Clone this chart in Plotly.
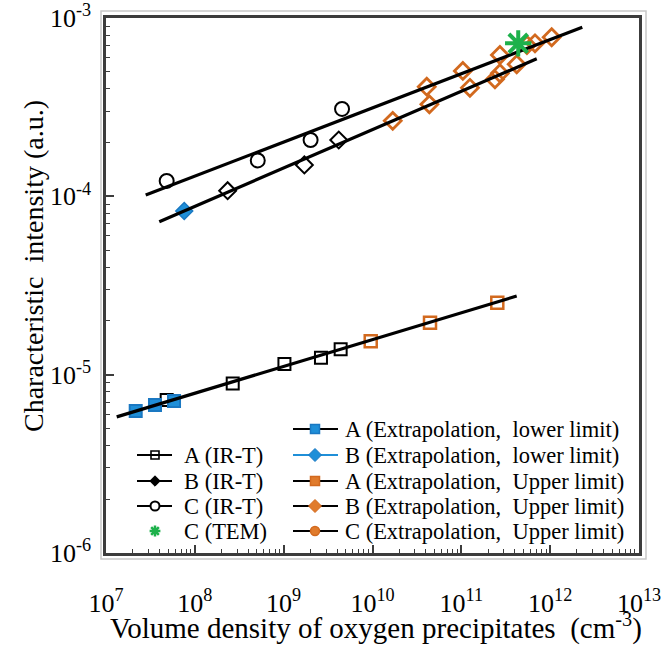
import plotly.graph_objects as go

# ---- data: volume density (cm^-3) vs characteristic intensity (a.u.) ----
a_irt_x = [4.82e7, 2.67e8, 1.02e9, 2.63e9, 4.38e9]
a_irt_y = [7.21e-6, 8.93e-6, 1.146e-5, 1.245e-5, 1.387e-5]

b_irt_x = [2.34e8, 1.71e9, 4.17e9]
b_irt_y = [1.075e-4, 1.50e-4, 2.07e-4]

c_irt_x = [4.82e7, 5.11e8, 2.01e9, 4.54e9]
c_irt_y = [1.22e-4, 1.59e-4, 2.07e-4, 3.09e-4]

c_tem_x = [4.37e11]
c_tem_y = [7.21e-4]

a_low_x = [2.16e7, 3.56e7, 5.83e7]
a_low_y = [6.25e-6, 6.76e-6, 7.11e-6]

b_low_x = [7.60e7]
b_low_y = [8.27e-5]

a_up_x = [9.55e9, 4.44e10, 2.54e11]
a_up_y = [1.54e-5, 1.955e-5, 2.53e-5]

b_up_x = [1.69e10, 4.37e10, 1.25e11, 2.39e11, 2.72e11, 4.20e11]
b_up_y = [2.65e-4, 3.28e-4, 4.06e-4, 4.53e-4, 4.90e-4, 5.50e-4]

c_up_x = [4.08e10, 1.04e11, 2.72e11, 5.48e11, 6.75e11, 1.04e12]
c_up_y = [4.12e-4, 5.05e-4, 6.20e-4, 7.06e-4, 7.21e-4, 7.80e-4]

# power-law fit lines (end points)
fit_a_x = [1.32e7, 4.2e11]
fit_a_y = [5.8e-6, 2.76e-5]
fit_b_x = [3.98e7, 7.06e11]
fit_b_y = [7.21e-5, 5.91e-4]
fit_c_x = [2.80e7, 2.30e12]
fit_c_y = [1.017e-4, 8.87e-4]

x_tick_exp = [7, 8, 9, 10, 11, 12, 13]
y_tick_exp = [-6, -5, -4, -3]

legend_left = ["A (IR-T)", "B (IR-T)", "C (IR-T)", "C (TEM)"]
legend_right = ["A (Extrapolation,  lower limit)", "B (Extrapolation,  lower limit)",
                "A (Extrapolation,  Upper limit)", "B (Extrapolation,  Upper limit)",
                "C (Extrapolation,  Upper limit)"]

x_title = "Volume density of oxygen precipitates  (cm<sup>-3</sup>)"
y_title = "Characteristic  intensity (a.u.)"

# ---- styling ----
FONT = "Times New Roman, Liberation Serif, Times, serif"
BLACK = "#000000"
BLUE = "#1f8fd8"
BLUE_EDGE = "#1a78c2"
ORANGE = "#d2691e"
ORANGE_FILL = "#e07b2c"
GREEN = "#1db14b"
AXIS = "#3c3c3c"

W, H = 669, 645
ML, MR, MT, MB = 106, 30, 18, 92
PW, PH = W - ML - MR, H - MT - MB

fig = go.Figure()


def pts(x, y, symbol, size, color, lw, fill="rgba(0,0,0,0)"):
    fig.add_trace(go.Scatter(
        x=x, y=y, mode="markers", showlegend=False, hoverinfo="skip",
        marker=dict(symbol=symbol, size=size, color=fill,
                    line=dict(color=color, width=lw))))


# data markers
pts(a_irt_x, a_irt_y, "square", 12, BLACK, 2)
pts(a_low_x, a_low_y, "square", 12, BLUE_EDGE, 2, BLUE)
pts(a_up_x, a_up_y, "square", 12, ORANGE, 2.5)
pts(c_irt_x, c_irt_y, "circle", 14, BLACK, 2)
pts(b_irt_x, b_irt_y, "diamond", 13, BLACK, 2)
pts(b_low_x, b_low_y, "diamond", 13, BLUE_EDGE, 1.5, BLUE)
pts(b_up_x, b_up_y, "diamond", 13, ORANGE, 2.8)
pts(c_up_x, c_up_y, "diamond", 13, ORANGE, 2.8)

# fit lines
for fx, fy in [(fit_a_x, fit_a_y), (fit_b_x, fit_b_y), (fit_c_x, fit_c_y)]:
    fig.add_trace(go.Scatter(x=fx, y=fy, mode="lines", showlegend=False,
                             hoverinfo="skip", line=dict(color=BLACK, width=3.2)))

# TEM point on top
fig.add_trace(go.Scatter(
    x=c_tem_x, y=c_tem_y, mode="markers", showlegend=False, hoverinfo="skip",
    marker=dict(symbol="asterisk-open", size=22, color=GREEN,
                line=dict(color=GREEN, width=4))))


# ---- hand-built legend on an overlay axis spanning the plot area (0..1) ----
def fx_(px):
    return (px - ML) / PW


def fy_(py):
    return (H - MB - py) / PH


left_rows = [455, 481, 506, 531]
right_rows = [429, 455, 481, 506, 531]
left_line = (137, 172)
left_mark = 155
left_text = 182
right_line = (293, 338)
right_mark = 315
right_text = 343

left_keys = [
    (BLACK, dict(symbol="square-open", size=8, color=BLACK, line=dict(width=1.6))),
    (BLACK, dict(symbol="diamond", size=8, color=BLACK, line=dict(color=BLACK, width=1))),
    (BLACK, dict(symbol="circle", size=9, color="white", line=dict(color=BLACK, width=2))),
    (None, dict(symbol="asterisk-open", size=9, color=GREEN, line=dict(color=GREEN, width=2.5))),
]
right_keys = [
    (BLACK, dict(symbol="square", size=9, color=BLUE, line=dict(color=BLUE_EDGE, width=1.5))),
    (BLUE, dict(symbol="diamond", size=10, color=BLUE, line=dict(color=BLUE_EDGE, width=1))),
    (BLACK, dict(symbol="square", size=9, color=ORANGE_FILL, line=dict(color=ORANGE, width=1.5))),
    (BLACK, dict(symbol="diamond", size=10, color=ORANGE_FILL, line=dict(color=ORANGE, width=1))),
    (BLACK, dict(symbol="circle", size=9, color=ORANGE_FILL, line=dict(color=ORANGE, width=1.5))),
]

annotations = []
for rows, keys, labels, (lx0, lx1), mx, tx in [
        (left_rows, left_keys, legend_left, left_line, left_mark, left_text),
        (right_rows, right_keys, legend_right, right_line, right_mark, right_text)]:
    for ry, (lc, mk), label in zip(rows, keys, labels):
        if lc is not None:
            fig.add_trace(go.Scatter(
                x=[fx_(lx0), fx_(lx1)], y=[fy_(ry), fy_(ry)], mode="lines",
                xaxis="x2", yaxis="y2", showlegend=False, hoverinfo="skip",
                line=dict(color=lc, width=1.8)))
        fig.add_trace(go.Scatter(
            x=[fx_(mx)], y=[fy_(ry)], mode="markers", xaxis="x2", yaxis="y2",
            showlegend=False, hoverinfo="skip", marker=mk))
        annotations.append(dict(
            x=fx_(tx), y=fy_(ry), xref="x2", yref="y2", text=label,
            showarrow=False, xanchor="left", yanchor="middle",
            font=dict(family=FONT, size=22.5, color=BLACK)))

# axis titles
annotations.append(dict(
    x=fx_(376), y=fy_(627), xref="paper", yref="paper", text=x_title,
    showarrow=False, xanchor="center", yanchor="middle",
    font=dict(family=FONT, size=29, color=BLACK)))
annotations.append(dict(
    x=fx_(33), y=fy_(266), xref="paper", yref="paper", text=y_title,
    showarrow=False, xanchor="center", yanchor="middle", textangle=-90,
    font=dict(family=FONT, size=28, color=BLACK)))

axis_common = dict(
    type="log", showline=True, mirror=True, linecolor=AXIS, linewidth=2.5,
    ticks="inside", ticklen=8, tickwidth=1.5, tickcolor=AXIS,
    showgrid=False, zeroline=False, automargin=False,
    tickfont=dict(family=FONT, size=26, color=BLACK),
)

fig.update_layout(
    width=W, height=H,
    margin=dict(l=ML, r=MR, t=MT, b=MB),
    paper_bgcolor="white", plot_bgcolor="white",
    font=dict(family=FONT, color=BLACK),
    showlegend=False,
    xaxis=dict(
        **axis_common,
        range=[7, 13],
        tickvals=[10.0 ** e for e in x_tick_exp],
        ticktext=[f"10<sup>{e}</sup>" for e in x_tick_exp],
        minor=dict(ticks="inside", ticklen=4, tickwidth=1.2, tickcolor=AXIS,
                   tickvals=[m * 10.0 ** e for e in x_tick_exp[:-1] for m in range(2, 10)]),
        ticklabelstandoff=25,
    ),
    yaxis=dict(
        **axis_common,
        range=[-6, -3],
        tickvals=[10.0 ** e for e in y_tick_exp],
        ticktext=[f"10<sup>{e}</sup>" for e in y_tick_exp],
        minor=dict(ticks="inside", ticklen=4, tickwidth=1.2, tickcolor=AXIS,
                   tickvals=[m * 10.0 ** e for e in y_tick_exp[:-1] for m in range(2, 10)]),
        ticklabelstandoff=7,
    ),
    xaxis2=dict(overlaying="x", range=[0, 1], visible=False, fixedrange=True,
                automargin=False),
    yaxis2=dict(overlaying="y", range=[0, 1], visible=False, fixedrange=True,
                automargin=False),
    annotations=annotations,
    shapes=[dict(type="rect", xref="paper", yref="paper",
                 x0=-5 / PW, x1=1 + 7 / PW, y0=-6 / PH, y1=1 + 7 / PH,
                 line=dict(color="#c8c8c8", width=1.5), layer="below")],
)

fig.write_html("out.html")
